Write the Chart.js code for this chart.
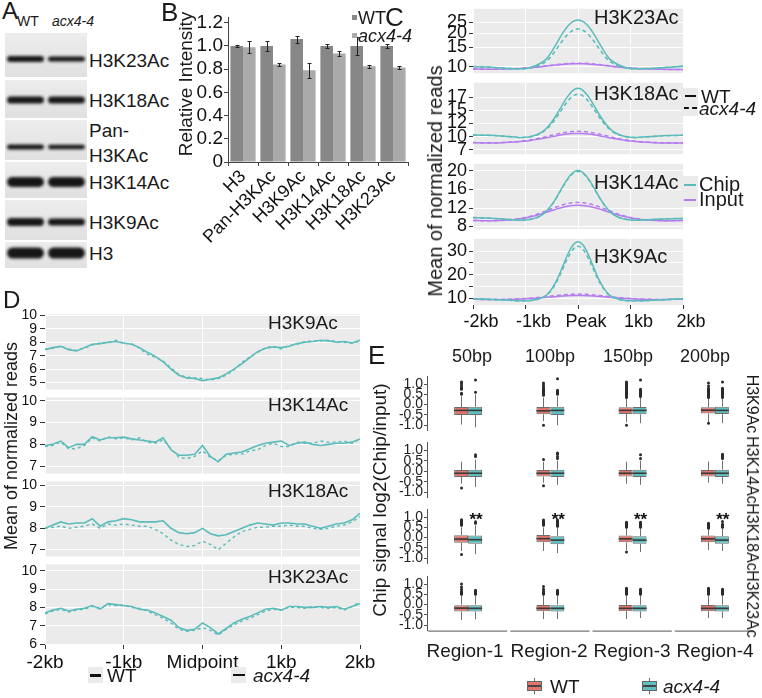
<!DOCTYPE html>
<html>
<head>
<meta charset="utf-8">
<script src="https://cdn.jsdelivr.net/npm/chart.js@4.4.0/dist/chart.umd.min.js"></script>
<style>
html, body { margin: 0; padding: 0; background: #fff; }
#fig { position: relative; width: 762px; height: 698px; overflow: hidden; font-family: 'Liberation Sans', Arial, sans-serif; color: #1a1a1a; }
#fig canvas { position: absolute; }
.t { position: absolute; line-height: 1; white-space: nowrap; }
</style>
</head>
<body>
<div id="fig"></div>
<script>
// ---------- A: western blot (positions along the membrane, px from blot top)
const blotRows = ['H3K23Ac', 'H3K18Ac', 'Pan-H3KAc', 'H3K14Ac', 'H3K9Ac', 'H3'];
const blotTop = [0, 47, 87, 129, 167, 209];
const blotBottom = [44, 85, 127, 165, 207, 235];
const bandPos = [26, 67, 114, 149, 189, 220];
const bandWT = [6, 7, 5, 10, 8, 11];
const bandAcx = [5, 7, 4.5, 10, 7, 11];

// ---------- B: relative intensity
const bCats = ['H3', 'Pan-H3KAc', 'H3K9Ac', 'H3K14Ac', 'H3K18Ac', 'H3K23Ac'];
const bWT = [1.0, 1.0, 1.06, 1.0, 1.0, 1.0];
const bWTErr = [0.006, 0.045, 0.03, 0.02, 0.08, 0.02];
const bAcx = [0.99, 0.84, 0.79, 0.935, 0.825, 0.815];
const bAcxErr = [0.05, 0.012, 0.065, 0.025, 0.015, 0.01];
const bTicks = [0, 0.2, 0.4, 0.6, 0.8, 1.0, 1.2];
const bTickText = ['0', '0.2', '0.4', '0.6', '0.8', '1.0', '1.2'];

// ---------- C: profiles around peaks (panels: H3K23Ac, H3K18Ac, H3K14Ac, H3K9Ac)
const cNames = ['H3K23Ac', 'H3K18Ac', 'H3K14Ac', 'H3K9Ac'];
const cX = [-2000, -1800, -1600, -1400, -1200, -1100, -1000, -900, -800, -700, -600, -500, -400, -300, -200, -100, 0,
  100, 200, 300, 400, 500, 600, 700, 800, 900, 1000, 1100, 1200, 1400, 1600, 1800, 2000];
const cChipWT = [
  [10.1, 10.0, 9.9, 9.75, 9.65, 9.62, 9.67, 9.95, 10.3, 10.9, 11.8, 13.7, 16.4, 19.7, 22.9, 25.3, 26.2, 25.3, 22.9, 19.7, 16.4, 13.7, 11.8, 10.9, 10.3, 9.95, 9.67, 9.62, 9.65, 9.7, 9.85, 10.0, 10.15],
  [9.8, 9.75, 9.7, 9.55, 9.4, 9.34, 9.39, 9.53, 9.8, 10.29, 11.1, 12.28, 13.81, 15.52, 17.12, 18.28, 18.7, 18.28, 17.12, 15.52, 13.81, 12.28, 11.1, 10.29, 9.8, 9.53, 9.39, 9.34, 9.38, 9.5, 9.65, 9.7, 9.75],
  [9.95, 9.85, 9.75, 9.6, 9.4, 9.34, 9.41, 9.56, 9.87, 10.43, 11.36, 12.72, 14.48, 16.45, 18.29, 19.61, 20.1, 19.61, 18.29, 16.45, 14.48, 12.72, 11.36, 10.43, 9.87, 9.56, 9.41, 9.34, 9.4, 9.5, 9.6, 9.7, 9.75],
  [9.8, 9.7, 9.5, 9.3, 9.05, 8.95, 8.95, 9.15, 9.5, 10.2, 11.44, 14.0, 17.94, 23.03, 28.35, 32.44, 34.0, 32.44, 28.35, 23.03, 17.94, 14.0, 11.44, 10.2, 9.5, 9.15, 8.95, 8.95, 9.0, 9.2, 9.4, 9.6, 9.75]
];
const cChipAcx = [
  [10.1, 10.0, 9.9, 9.75, 9.65, 9.62, 9.65, 9.85, 10.1, 10.55, 11.25, 12.6, 14.6, 17.0, 19.4, 21.1, 21.8, 21.1, 19.4, 17.0, 14.6, 12.6, 11.25, 10.55, 10.1, 9.85, 9.65, 9.62, 9.65, 9.7, 9.85, 10.0, 10.15],
  [9.8, 9.75, 9.7, 9.55, 9.4, 9.34, 9.38, 9.5, 9.74, 10.17, 10.89, 11.93, 13.28, 14.79, 16.21, 17.23, 17.6, 17.23, 16.21, 14.79, 13.28, 11.93, 10.89, 10.17, 9.74, 9.5, 9.38, 9.34, 9.38, 9.5, 9.65, 9.7, 9.75],
  [9.95, 9.85, 9.75, 9.6, 9.4, 9.34, 9.41, 9.55, 9.86, 10.41, 11.32, 12.66, 14.39, 16.32, 18.12, 19.42, 19.9, 19.42, 18.12, 16.32, 14.39, 12.66, 11.32, 10.41, 9.86, 9.55, 9.41, 9.34, 9.4, 9.5, 9.6, 9.7, 9.75],
  [9.8, 9.7, 9.5, 9.3, 9.05, 8.95, 8.95, 9.12, 9.45, 10.1, 11.23, 13.59, 17.22, 21.9, 26.8, 30.57, 32.0, 30.57, 26.8, 21.9, 17.22, 13.59, 11.23, 10.1, 9.45, 9.12, 8.95, 8.95, 9.0, 9.2, 9.4, 9.6, 9.75]
];
const cInputWT = [
  [9.6, 9.56, 9.55, 9.6, 9.66, 9.71, 9.77, 9.85, 9.95, 10.06, 10.18, 10.31, 10.43, 10.54, 10.63, 10.68, 10.7, 10.68, 10.63, 10.54, 10.43, 10.31, 10.18, 10.06, 9.95, 9.85, 9.77, 9.71, 9.66, 9.58, 9.52, 9.5, 9.5],
  [8.35, 8.3, 8.3, 8.37, 8.47, 8.54, 8.64, 8.77, 8.92, 9.1, 9.29, 9.49, 9.68, 9.85, 9.98, 10.07, 10.1, 10.07, 9.98, 9.85, 9.68, 9.49, 9.29, 9.1, 8.92, 8.77, 8.64, 8.54, 8.47, 8.37, 8.3, 8.3, 8.3],
  [9.3, 9.25, 9.25, 9.33, 9.52, 9.66, 9.85, 10.09, 10.38, 10.71, 11.08, 11.45, 11.81, 12.13, 12.38, 12.55, 12.6, 12.55, 12.38, 12.13, 11.81, 11.45, 11.08, 10.71, 10.38, 10.09, 9.85, 9.66, 9.52, 9.33, 9.25, 9.25, 9.3],
  [9.6, 9.55, 9.52, 9.57, 9.66, 9.73, 9.82, 9.95, 10.09, 10.26, 10.44, 10.63, 10.81, 10.97, 11.09, 11.17, 11.2, 11.17, 11.09, 10.97, 10.81, 10.63, 10.44, 10.26, 10.09, 9.95, 9.82, 9.73, 9.66, 9.57, 9.55, 9.6, 9.7]
];
const cInputAcx = [
  [9.6, 9.56, 9.55, 9.6, 9.67, 9.72, 9.79, 9.88, 9.98, 10.11, 10.24, 10.38, 10.51, 10.63, 10.72, 10.78, 10.8, 10.78, 10.72, 10.63, 10.51, 10.38, 10.24, 10.11, 9.98, 9.88, 9.79, 9.72, 9.67, 9.58, 9.52, 9.5, 9.5],
  [8.35, 8.31, 8.33, 8.39, 8.5, 8.6, 8.72, 8.88, 9.06, 9.28, 9.51, 9.76, 9.99, 10.2, 10.36, 10.46, 10.5, 10.46, 10.36, 10.2, 9.99, 9.76, 9.51, 9.28, 9.06, 8.88, 8.72, 8.6, 8.5, 8.39, 8.33, 8.3, 8.3],
  [9.3, 9.25, 9.27, 9.36, 9.57, 9.74, 9.96, 10.25, 10.59, 10.98, 11.41, 11.85, 12.27, 12.65, 12.94, 13.14, 13.2, 13.14, 12.94, 12.65, 12.27, 11.85, 11.41, 10.98, 10.59, 10.25, 9.96, 9.74, 9.57, 9.36, 9.27, 9.25, 9.3],
  [9.6, 9.55, 9.53, 9.59, 9.71, 9.81, 9.94, 10.1, 10.3, 10.52, 10.77, 11.02, 11.27, 11.48, 11.65, 11.76, 11.8, 11.76, 11.65, 11.48, 11.27, 11.02, 10.77, 10.52, 10.3, 10.1, 9.94, 9.81, 9.71, 9.59, 9.55, 9.6, 9.7]
];
const cTickVals = [[10, 15, 20, 25], [7, 9.5, 12, 14.5, 17], [8, 12, 16, 20], [10, 15, 20, 25, 30]];
const cTickText = [['10', '15', '20', '25'], ['7', '10', '12', '15', '17'], ['8', '12', '16', '20'], ['10', '', '20', '', '30']];
const cXTicks = [-2000, -1000, 0, 1000, 2000];
const cXText = ['-2kb', '-1kb', 'Peak', '1kb', '2kb'];

// ---------- D: profiles around midpoints (panels: H3K9Ac, H3K14Ac, H3K18Ac, H3K23Ac)
const dNames = ['H3K9Ac', 'H3K14Ac', 'H3K18Ac', 'H3K23Ac'];
const dX = [-2000, -1900, -1800, -1700, -1600, -1500, -1400, -1300, -1200, -1100, -1000, -900, -800, -700, -600, -500, -400, -300, -200, -100, 0,
  100, 200, 300, 400, 500, 600, 700, 800, 900, 1000, 1100, 1200, 1300, 1400, 1500, 1600, 1700, 1800, 1900, 2000];
const dWT = [
  [7.45, 7.6, 7.7, 7.45, 7.35, 7.6, 7.85, 7.9, 8.0, 8.05, 7.95, 7.85, 7.6, 7.25, 6.95, 6.55, 6.0, 5.55, 5.35, 5.3, 5.15, 5.25, 5.35, 5.65, 6.0, 6.4, 6.85, 7.3, 7.55, 7.65, 7.6, 7.7, 7.9, 8.0, 8.05, 8.15, 8.1, 8.0, 8.05, 7.95, 8.15],
  [7.95, 8.0, 8.15, 7.85, 8.0, 8.0, 8.35, 8.2, 8.3, 8.3, 8.33, 8.25, 8.2, 8.15, 8.1, 8.3, 7.75, 7.5, 7.5, 7.55, 7.95, 7.45, 7.2, 7.55, 7.6, 7.65, 7.8, 7.95, 8.05, 8.1, 8.15, 7.95, 8.05, 8.1, 8.0, 7.95, 8.0, 8.05, 8.05, 8.1, 8.25],
  [8.0, 8.15, 8.3, 8.2, 8.25, 8.25, 8.45, 8.1, 8.3, 8.35, 8.45, 8.4, 8.3, 8.3, 8.3, 8.35, 8.0, 7.8, 7.75, 7.8, 8.0, 7.75, 7.65, 7.7, 7.85, 8.0, 8.15, 8.25, 8.2, 8.15, 8.25, 8.25, 8.2, 8.2, 8.1, 8.0, 8.1, 8.2, 8.25, 8.4, 8.7],
  [7.7, 7.85, 7.95, 7.8, 7.9, 7.95, 8.1, 7.9, 8.2, 8.15, 8.1, 8.05, 7.9, 7.85, 7.7, 7.5, 7.3, 6.9, 6.75, 6.8, 7.15, 6.9, 6.55, 6.85, 7.15, 7.35, 7.5, 7.7, 7.9, 7.95, 7.85, 8.05, 8.05, 8.0, 8.0, 8.05, 8.0, 8.05, 7.9, 8.05, 8.2]
];
const dAcx = [
  [7.5, 7.55, 7.7, 7.5, 7.4, 7.55, 7.8, 7.95, 7.95, 8.15, 7.9, 7.9, 7.55, 7.1, 6.9, 6.6, 6.1, 5.6, 5.4, 5.35, 5.3, 5.2, 5.3, 5.55, 5.95, 6.5, 6.9, 7.25, 7.6, 7.7, 7.5, 7.75, 7.85, 8.05, 8.1, 8.1, 8.15, 8.05, 8.0, 7.9, 8.1],
  [7.9, 7.95, 8.1, 7.8, 7.8, 7.95, 8.3, 8.15, 8.35, 8.25, 8.3, 8.2, 8.3, 8.1, 8.05, 8.2, 7.8, 7.4, 7.35, 7.45, 7.7, 7.4, 7.25, 7.5, 7.55, 7.55, 7.7, 7.75, 7.95, 8.05, 7.9, 7.9, 8.1, 8.05, 8.05, 8.15, 8.1, 8.1, 8.15, 8.05, 8.25],
  [8.0, 8.05, 8.1, 8.0, 8.05, 8.1, 8.2, 8.0, 8.2, 8.15, 8.2, 8.15, 8.1, 8.1, 7.95, 7.75, 7.45, 7.25, 7.15, 7.2, 7.4, 7.25, 7.0, 7.3, 7.6, 7.85, 7.95, 8.05, 8.05, 8.1, 8.1, 8.15, 8.1, 8.1, 8.0, 7.95, 8.0, 8.1, 8.15, 8.3, 8.55],
  [7.65, 7.8, 7.9, 7.75, 7.85, 7.9, 8.05, 7.95, 8.15, 8.1, 8.1, 8.0, 7.95, 7.8, 7.6, 7.4, 7.15, 6.8, 6.7, 6.75, 6.9, 6.75, 6.5, 6.8, 7.05, 7.25, 7.4, 7.6, 7.8, 7.9, 7.85, 8.0, 8.0, 7.95, 8.05, 8.0, 7.95, 8.0, 7.85, 8.05, 8.3]
];
const dTickVals = [[5, 6, 7, 8, 9, 10], [7, 8, 9, 10], [7, 8, 9, 10], [6, 7, 8, 9, 10]];
const dXText = ['-2kb', '-1kb', 'Midpoint', '1kb', '2kb'];

// ---------- E: box plots, [low whisker, q1, median, q3, high whisker]
const eRows = ['H3K9Ac', 'H3K14Ac', 'H3K18Ac', 'H3K23Ac'];
const eRegions = ['Region-1', 'Region-2', 'Region-3', 'Region-4'];
const eWidths = ['50bp', '100bp', '150bp', '200bp'];
const eWT = [
  [[-0.97, -0.5, -0.28, -0.12, 0.4], [-0.8, -0.47, -0.3, -0.12, 0.35], [-0.85, -0.45, -0.28, -0.13, 0.3], [-0.85, -0.43, -0.27, -0.13, 0.3]],
  [[-0.6, -0.28, -0.1, 0.05, 0.45], [-0.55, -0.25, -0.1, 0.05, 0.45], [-0.6, -0.25, -0.1, 0.05, 0.45], [-0.55, -0.25, -0.1, 0.05, 0.45]],
  [[-0.65, -0.25, -0.07, 0.12, 0.5], [-0.65, -0.22, -0.05, 0.13, 0.5], [-0.6, -0.23, -0.06, 0.1, 0.45], [-0.6, -0.22, -0.06, 0.1, 0.4]],
  [[-0.75, -0.33, -0.17, 0.0, 0.45], [-0.7, -0.32, -0.18, -0.02, 0.45], [-0.7, -0.32, -0.18, -0.02, 0.45], [-0.65, -0.32, -0.18, -0.02, 0.45]]
];
const eAcx = [
  [[-1.1, -0.5, -0.28, -0.1, 0.5], [-1.0, -0.5, -0.28, -0.1, 0.4], [-0.9, -0.47, -0.28, -0.12, 0.35], [-0.9, -0.45, -0.28, -0.1, 0.3]],
  [[-0.75, -0.28, -0.1, 0.07, 0.55], [-0.65, -0.28, -0.1, 0.07, 0.5], [-0.65, -0.28, -0.1, 0.07, 0.5], [-0.6, -0.28, -0.1, 0.07, 0.5]],
  [[-0.8, -0.3, -0.1, 0.1, 0.6], [-0.75, -0.32, -0.12, 0.07, 0.5], [-0.7, -0.3, -0.12, 0.07, 0.45], [-0.65, -0.3, -0.12, 0.07, 0.45]],
  [[-0.72, -0.33, -0.18, 0.0, 0.45], [-0.7, -0.33, -0.18, 0.0, 0.45], [-0.65, -0.33, -0.18, 0.0, 0.45], [-0.65, -0.33, -0.18, 0.0, 0.45]]
];
const eWTOut = [
  [[0.5, 0.55, 0.75, 0.8, 0.85, 0.95, 1.05, 1.1], [0.45, 0.5, 0.55, 0.6, 0.65, 0.7, 0.75, 0.8, 0.85, 0.95, 1.05, -1.0], [0.35, 0.4, 0.45, 0.5, 0.55, 0.6, 0.65, 0.7, 0.75, 0.8, 0.85, 0.9, 0.95, 1.0, 1.05, 1.1, -1.0], [0.35, 0.4, 0.45, 0.5, 0.55, 0.6, 0.65, 0.7, 0.75, 0.8, 0.9, 1.05, -0.9]],
  [[-0.8], [0.55, -0.7], [], []],
  [[0.6, 0.65, 0.7, 0.75, 0.8, 0.87, -0.82], [0.6, 0.65, 0.7, 0.75, 0.8, 0.85], [0.5, 0.55, 0.6, 0.65, 0.7, 0.75, -0.7], [0.45, 0.5, 0.55, 0.6, 0.65, 0.7]],
  [[0.5, 0.55, 0.6, 0.65, 0.75, 0.85, 1.0], [0.5, 0.55, 0.6, 0.65, 0.75, 0.88], [0.5, 0.55, 0.6, 0.65, 0.7, 0.75, 0.8], [0.5, 0.55, 0.6, 0.65, 0.7, 0.75, 0.8]]
];
const eAcxOut = [
  [[0.6, 1.2], [0.5, 0.55, 0.6, 0.65, 0.7, 1.25], [0.4, 0.45, 0.5, 0.55, 0.6, 0.65, 0.7, 0.75, 1.2], [0.35, 0.4, 0.45, 0.5, 0.55, 0.6, 0.65, 0.7, 0.75, 0.8, 1.1]],
  [[0.7, 0.78], [0.6, 0.7, 0.8, 0.87], [0.6, 0.78], [0.6, 0.65, 0.7, 0.75, 0.8]],
  [[0.7, 0.77], [0.55, 0.6, 0.65, 0.7, 0.75, 0.8, 0.85], [0.5, 0.55, 0.6, 0.65, 0.7, 0.75], [0.5, 0.55, 0.6, 0.65, 0.78]],
  [[0.5, 0.55, 0.6, 0.65, 0.7], [0.5, 0.55, 0.6, 0.65, 0.7], [0.5, 0.55, 0.6, 0.65, 0.7, 0.75], [0.5, 0.55, 0.6, 0.65, 0.7, 0.75]]
];
const eStars = ['', '', '**', ''];
const eTickVals = [-1, -0.5, 0, 0.5, 1];
const eTickText = ['-1.0', '-0.5', '0.0', '0.5', '1.0'];

// ---------- colours
const teal = '#5bbcb9';
const purple = '#b47cf0';
const boxRed = '#e2746b';
const boxTeal = '#5dbfbf';
const FONT = "'Liberation Sans', Arial, sans-serif";

// ---------- helpers
const fig = document.getElementById('fig');

function canvasAt(x, y, w, h) {
  const c = document.createElement('canvas');
  c.width = w; c.height = h;
  c.style.left = x + 'px'; c.style.top = y + 'px';
  c.style.width = w + 'px'; c.style.height = h + 'px';
  fig.appendChild(c);
  return c;
}

// y is the vertical centre of the text
function label(html, x, y, size, opt = {}) {
  const d = document.createElement('div');
  d.className = 't';
  d.innerHTML = html;
  d.style.left = x + 'px';
  d.style.top = y + 'px';
  d.style.fontSize = size + 'px';
  let tf = 'translateY(-50%)';
  if (opt.center) tf = 'translate(-50%,-50%)';
  if (opt.rot) tf = 'translate(-50%,-50%) rotate(' + opt.rot + 'deg)';
  d.style.transform = tf;
  if (opt.italic) d.style.fontStyle = 'italic';
  fig.appendChild(d);
  return d;
}

function block(x, y, w, h, css) {
  const d = document.createElement('div');
  d.style.cssText = `position:absolute;left:${x}px;top:${y}px;width:${w}px;height:${h}px;${css}`;
  fig.appendChild(d);
  return d;
}

const base = {
  responsive: false,
  animation: false,
  devicePixelRatio: 1,
  events: []
};

// gray ggplot panel
const panelBg = {
  id: 'panelBg',
  beforeDraw(chart, args, o) {
    if (!o.color) return;
    const { ctx, chartArea: a } = chart;
    ctx.save();
    ctx.fillStyle = o.color;
    ctx.fillRect(a.left, a.top, a.right - a.left, a.bottom - a.top);
    ctx.restore();
  }
};

// ---------- A
const blot = {
  id: 'blot',
  afterDatasetsDraw(chart) {
    const { ctx, scales: { x, y } } = chart;
    const x0 = x.getPixelForValue(0), x1 = x.getPixelForValue(2);
    blotRows.forEach((name, i) => {
      const t = y.getPixelForValue(blotTop[i]), b = y.getPixelForValue(blotBottom[i]);
      const g = ctx.createLinearGradient(0, t, 0, b);
      g.addColorStop(0, '#ededed');
      g.addColorStop(1, '#e0e0e0');
      ctx.fillStyle = g;
      ctx.fillRect(x0, t, x1 - x0, b - t);
      [bandWT, bandAcx].forEach((th, lane) => {
        const cy = y.getPixelForValue(bandPos[i]);
        const l = x.getPixelForValue(lane + 0.05), r = x.getPixelForValue(lane + 0.95);
        const h = th[i];
        ctx.save();
        ctx.beginPath(); ctx.rect(x0, t, x1 - x0, b - t); ctx.clip();
        ctx.filter = 'blur(1.4px)';
        ctx.fillStyle = '#161616';
        ctx.beginPath();
        ctx.roundRect(l, cy - h / 2, r - l, h, h / 2);
        ctx.fill();
        ctx.restore();
      });
    });
  }
};

new Chart(canvasAt(5, 33, 82, 235), {
  type: 'scatter',
  data: { datasets: [] },
  options: {
    ...base,
    layout: { padding: 0, autoPadding: false },
    plugins: { legend: { display: false }, tooltip: { enabled: false } },
    scales: {
      x: { display: false, min: 0, max: 2 },
      y: { display: false, min: 0, max: 235, reverse: true }
    }
  },
  plugins: [blot]
});

label('A', 2, 11, 24);
label('WT', 17, 21, 14);
label('acx4-4', 52, 21, 14, { italic: true });
label('H3K23Ac', 89, 60, 19);
label('H3K18Ac', 89, 100, 19);
label('Pan-', 89, 130, 19);
label('H3KAc', 89, 155, 19);
label('H3K14Ac', 89, 182, 19);
label('H3K9Ac', 89, 222, 19);
label('H3', 89, 253, 19);

// ---------- B
const errBars = {
  id: 'errBars',
  afterDatasetsDraw(chart, args, o) {
    const { ctx, scales: { y } } = chart;
    ctx.save();
    ctx.strokeStyle = '#222';
    ctx.lineWidth = 1;
    o.errs.forEach((err, d) => {
      chart.getDatasetMeta(d).data.forEach((bar, i) => {
        const v = chart.data.datasets[d].data[i];
        const y1 = Math.round(y.getPixelForValue(v + err[i])) + 0.5;
        const y2 = Math.round(y.getPixelForValue(v - err[i])) + 0.5;
        const bx = Math.round(bar.x) + 0.5;
        ctx.beginPath();
        ctx.moveTo(bx, y1); ctx.lineTo(bx, y2);
        ctx.moveTo(bx - 2, y1); ctx.lineTo(bx + 2, y1);
        ctx.moveTo(bx - 2, y2); ctx.lineTo(bx + 2, y2);
        ctx.stroke();
      });
    });
    ctx.restore();
  }
};

new Chart(canvasAt(160, 0, 250, 252), {
  type: 'bar',
  data: {
    labels: bCats,
    datasets: [
      { data: bWT, backgroundColor: '#878787', categoryPercentage: 0.84, barPercentage: 1 },
      { data: bAcx, backgroundColor: '#aaaaaa', categoryPercentage: 0.84, barPercentage: 1 }
    ]
  },
  options: {
    ...base,
    layout: { padding: { top: 17, right: 2, left: 0, bottom: 0 }, autoPadding: false },
    plugins: { legend: { display: false }, tooltip: { enabled: false }, errBars: { errs: [bWTErr, bAcxErr] } },
    scales: {
      x: {
        afterFit: s => { s.height = 90; },
        ticks: { minRotation: 45, maxRotation: 45, autoSkip: false, font: { size: 18 }, color: '#111', padding: 0 },
        grid: { drawOnChartArea: false, tickLength: 4, color: '#444' },
        border: { display: true, color: '#444' }
      },
      y: {
        min: 0, max: 1.25,
        afterBuildTicks: s => { s.ticks = bTicks.map(v => ({ value: v })); },
        afterFit: s => { s.width = 68; },
        ticks: { autoSkip: false, callback: (v, i) => bTickText[i], font: { size: 19 }, color: '#111', padding: 1 },
        grid: { drawOnChartArea: false, tickLength: 4, color: '#444' },
        border: { display: true, color: '#444' }
      }
    }
  },
  plugins: [errBars]
});

label('B', 161, 12, 26);
label('Relative Intensity', 185, 84, 19, { rot: -90 });
block(352, 15, 5, 5, 'background:#878787');
label('WT', 358, 18, 18);
block(352, 33, 5, 5, 'background:#aaaaaa');
label('acx4-4', 358, 36, 18, { italic: true });

// ---------- profile charts (C and D)
function profile(o) {
  const padT = 9, padB = o.xText ? 0 : 9, padR = 30;
  const c = canvasAt(o.left - o.yW, o.top - padT, o.yW + o.w + padR, padT + o.h + (o.xText ? o.xH : padB));
  new Chart(c, {
    type: 'line',
    data: {
      datasets: o.series.map(s => ({
        data: o.xs.map((x, i) => ({ x, y: s.v[i] })),
        borderColor: s.color,
        borderWidth: s.w,
        borderDash: s.dash || [],
        pointRadius: 0,
        fill: false,
        cubicInterpolationMode: o.smooth ? 'monotone' : 'default',
        tension: 0
      }))
    },
    options: {
      ...base,
      layout: { padding: { top: padT, bottom: padB, left: 0, right: padR }, autoPadding: false },
      plugins: { legend: { display: false }, tooltip: { enabled: false }, panelBg: { color: '#ebebeb' } },
      scales: {
        x: {
          type: 'linear', min: -2000, max: 2000,
          afterBuildTicks: s => { s.ticks = cXTicks.map(v => ({ value: v })); },
          afterFit: s => { s.height = o.xText ? o.xH : 0; },
          ticks: {
            display: !!o.xText, autoSkip: false, maxRotation: 0,
            callback: (v, i) => (o.xText ? o.xText[i] : ''),
            font: { size: o.xFont }, color: '#111', padding: 2, labelOffset: o.xOffset || 0
          },
          grid: { color: '#ffffff', lineWidth: 1, drawTicks: !!o.xText, tickLength: 4, tickColor: '#333' },
          border: { display: false }
        },
        y: {
          type: o.log ? 'logarithmic' : 'linear', min: o.min, max: o.max,
          afterBuildTicks: s => { s.ticks = o.ticks.map(v => ({ value: v })); },
          afterFit: s => { s.width = o.yW; },
          ticks: { autoSkip: false, callback: (v, i) => o.tickText[i], font: { size: o.font }, color: '#111', padding: o.tickPad },
          grid: { color: '#ffffff', lineWidth: 1, tickLength: o.tickLen, tickColor: '#333' },
          border: { display: false }
        }
      }
    },
    plugins: [panelBg]
  });
}

// C panels
const cLayout = [
  { top: 5, h: 72, min: 8.8, max: 32.9, log: true, title: 17 },
  { top: 79, h: 79, min: 6.14, max: 19.76, log: false, title: 93 },
  { top: 160, h: 73, min: 7.42, max: 21.55, log: false, title: 182 },
  { top: 235, h: 70, min: 7.2, max: 35.2, log: false, title: 256 }
];
cLayout.forEach((p, k) => {
  profile({
    left: 473, top: p.top, w: 210, h: p.h, yW: 45,
    min: p.min, max: p.max, log: p.log,
    ticks: cTickVals[k], tickText: cTickText[k], font: 18, tickPad: 2, tickLen: 4,
    xs: cX, smooth: true,
    xText: k === 3 ? cXText : null, xH: 28, xFont: 18, xOffset: 8,
    series: [
      { v: cChipWT[k], color: teal, w: 1.5 },
      { v: cChipAcx[k], color: teal, w: 1.5, dash: [4, 3] },
      { v: cInputWT[k], color: purple, w: 1.5 },
      { v: cInputAcx[k], color: purple, w: 1.5, dash: [4, 3] }
    ]
  });
  label(cNames[k], 594, p.title, 20);
});
label('C', 385, 17, 26);
label('Mean of normalized reads', 435, 181, 20, { rot: -90 });
// legend of C
block(682, 88, 16, 28, 'background:#ebebeb');
block(685, 95, 11, 2, 'background:#111');
block(684, 107, 13, 0, 'border-top:2px dashed #111');
label('WT', 701, 96, 19);
label('acx4-4', 699, 108, 19, { italic: true });
block(682, 176, 16, 31, 'background:#ebebeb');
block(684, 184, 12, 2, 'background:' + teal);
block(684, 199, 12, 2, 'background:' + purple);
label('Chip', 699, 184, 20);
label('Input', 699, 199, 20);

// D panels
const dLayout = [
  { top: 312, h: 80, min: 4.48, max: 10.07, title: 322 },
  { top: 395, h: 81, min: 6.66, max: 10.15, title: 404 },
  { top: 479, h: 80, min: 6.68, max: 10.19, title: 490 },
  { top: 562, h: 83, min: 5.95, max: 10.34, title: 576 }
];
dLayout.forEach((p, k) => {
  profile({
    left: 45, top: p.top, w: 315, h: p.h, yW: 45,
    min: p.min, max: p.max, log: false,
    ticks: dTickVals[k], tickText: dTickVals[k].map(String), font: 14, tickPad: 3, tickLen: 5,
    xs: dX, smooth: false,
    xText: k === 3 ? dXText : null, xH: 26, xFont: 19, xOffset: 0,
    series: [
      { v: dWT[k], color: teal, w: 1.6 },
      { v: dAcx[k], color: teal, w: 1.4, dash: [3, 3] }
    ]
  });
  label(dNames[k], 268, p.title, 19);
});
label('D', 3, 300, 24);
label('Mean of normalized reads', 11, 446, 18, { rot: -90 });
block(88, 667, 15, 16, 'background:#ebebeb');
block(90, 674, 11, 3, 'background:#111');
label('WT', 107, 675, 19);
block(231, 667, 15, 16, 'background:#ebebeb');
block(233, 674, 12, 0, 'border-top:2px dashed #111');
label('acx4-4', 253, 675, 19, { italic: true });

// ---------- E
const boxPlot = {
  id: 'boxPlot',
  afterDatasetsDraw(chart, args, o) {
    const { ctx, chartArea: a, scales: { x, y } } = chart;
    o.stats.forEach((rows, d) => {
      chart.getDatasetMeta(d).data.forEach((bar, i) => {
        const [lo, q1, med, q3, hi] = rows[i];
        const bx = Math.round(bar.x) + 0.5, w = bar.width;
        ctx.save();
        ctx.strokeStyle = '#707070';
        ctx.lineWidth = 1;
        ctx.beginPath();
        ctx.moveTo(bx, y.getPixelForValue(q3)); ctx.lineTo(bx, y.getPixelForValue(hi));
        ctx.moveTo(bx, y.getPixelForValue(q1)); ctx.lineTo(bx, y.getPixelForValue(lo));
        ctx.stroke();
        ctx.strokeStyle = '#3a3a3a';
        ctx.lineWidth = 1.6;
        ctx.beginPath();
        ctx.moveTo(bar.x - w / 2, y.getPixelForValue(med));
        ctx.lineTo(bar.x + w / 2, y.getPixelForValue(med));
        ctx.stroke();
        ctx.fillStyle = '#2a2a2a';
        o.outliers[d][i].forEach(v => {
          ctx.beginPath();
          ctx.arc(bx, y.getPixelForValue(v), 1.5, 0, Math.PI * 2);
          ctx.fill();
        });
        if (d === 1 && o.star) {
          ctx.font = 'bold 17px ' + FONT;
          ctx.textAlign = 'center';
          ctx.fillStyle = '#111';
          ctx.fillText(o.star, bar.x + 1, y.getPixelForValue(0.6));
        }
        ctx.restore();
      });
    });
    if (o.axis) {
      const half = (a.right - a.left) / 8;
      ctx.save();
      ctx.strokeStyle = '#555';
      ctx.lineWidth = 1;
      eRegions.forEach((r, i) => {
        const cx = x.getPixelForValue(i);
        ctx.beginPath();
        ctx.moveTo(cx - half + 1, a.bottom + 0.5);
        ctx.lineTo(cx + half - 2, a.bottom + 0.5);
        ctx.stroke();
      });
      ctx.restore();
    }
  }
};

const eLayout = [{ top: 372, h: 63 }, { top: 438, h: 64 }, { top: 505, h: 63 }, { top: 572, h: 63 }];
eLayout.forEach((p, r) => {
  new Chart(canvasAt(395, p.top - 5, 361, p.h + 10), {
    type: 'bar',
    data: {
      labels: eRegions,
      datasets: [
        { data: eWT[r].map(s => [s[1], s[3]]), backgroundColor: boxRed, borderColor: '#6d6d6d', borderWidth: 1, borderSkipped: false, categoryPercentage: 0.34, barPercentage: 1 },
        { data: eAcx[r].map(s => [s[1], s[3]]), backgroundColor: boxTeal, borderColor: '#6d6d6d', borderWidth: 1, borderSkipped: false, categoryPercentage: 0.34, barPercentage: 1 }
      ]
    },
    options: {
      ...base,
      layout: { padding: { top: 5, bottom: 5, left: 0, right: 0 }, autoPadding: false },
      plugins: {
        legend: { display: false }, tooltip: { enabled: false },
        boxPlot: { stats: [eWT[r], eAcx[r]], outliers: [eWTOut[r], eAcxOut[r]], star: eStars[r], axis: r === 3 }
      },
      scales: {
        x: { display: false },
        y: {
          min: -1.26, max: 1.37,
          afterBuildTicks: s => { s.ticks = eTickVals.map(v => ({ value: v })); },
          afterFit: s => { s.width = 32; },
          ticks: { autoSkip: false, callback: (v, i) => eTickText[i], font: { size: 14 }, color: '#222', padding: 1 },
          grid: { drawOnChartArea: false, tickLength: 3, color: '#555' },
          border: { display: true, color: '#555' }
        }
      }
    },
    plugins: [boxPlot]
  });
  label(eRows[r], 752, p.top + p.h / 2, 16, { rot: 90 });
});

label('E', 368, 355, 26);
label('Chip signal log2(Chip/input)', 379, 500, 19, { rot: -90 });
[472, 550, 628, 705].forEach((cx, i) => label(eWidths[i], cx, 356, 18, { center: true }));
[465, 549, 632, 715].forEach((cx, i) => label(eRegions[i], cx, 650, 19, { center: true }));

function boxKey(x, y, color) {
  block(x + 7, y, 1, 16, 'background:#666');
  block(x, y + 3, 15, 10, 'box-sizing:border-box;border:1px solid #666;background:' + color);
  block(x + 1, y + 7, 13, 2, 'background:#444');
}
boxKey(527, 678, boxRed);
label('WT', 550, 686, 19);
boxKey(642, 678, boxTeal);
label('acx4-4', 663, 686, 19, { italic: true });
</script>
</body>
</html>
